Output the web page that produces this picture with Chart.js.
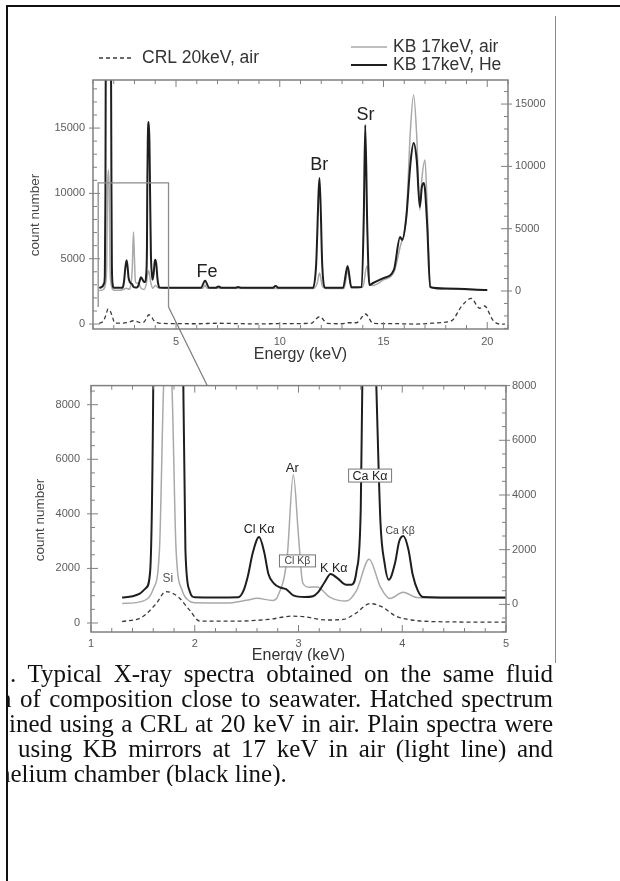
<!DOCTYPE html>
<html>
<head>
<meta charset="utf-8">
<title>X-ray spectra, fluid inclusion</title>
<script src="https://cdn.jsdelivr.net/npm/chart.js@4.4.1/dist/chart.umd.min.js"></script>
<style>
  html, body { margin: 0; padding: 0; background: #fff; }
  body { width: 620px; height: 881px; position: relative; overflow: hidden; }
  #frame { position: absolute; left: 6px; top: 5px; width: 700px; height: 900px; border-left: 2px solid #111; border-top: 2px solid #111; }
  #figEdge { position: absolute; left: 555px; top: 16px; width: 1px; height: 647px; background: #8a8a8a; }
  #topWrap { position: absolute; left: 8px; top: 18px; width: 546px; height: 350px; }
  #zoomWrap { position: absolute; left: 8px; top: 368px; width: 546px; height: 293px; overflow: hidden; }
  canvas { display: block; }
  #overlay { position: absolute; left: 0; top: 0; pointer-events: none; }
  #caption { position: absolute; left: 8px; top: 661px; width: 545px; overflow: hidden;
    font-family: 'Liberation Serif', 'Times New Roman', serif; font-size: 25px; line-height: 25px; color: #111; }
  .ln { text-align: justify; text-align-last: justify; }
  .last { text-align: left; text-align-last: left; }
</style>
</head>
<body>
<div id="frame"></div>
<div id="figEdge"></div>
<div id="topWrap"><canvas id="overview" width="546" height="350"></canvas></div>
<div id="zoomWrap"><canvas id="zoom" width="546" height="310"></canvas></div>
<canvas id="overlay" width="620" height="881"></canvas>
<div id="caption">
  <div class="ln" style="margin-left:2px;width:543px">. Typical X-ray spectra obtained on the same fluid</div>
  <div class="ln" style="margin-left:-9px;width:554px">n of composition close to seawater. Hatched spectrum</div>
  <div class="ln" style="margin-left:1px;width:544px">ined using a CRL at 20 keV in air. Plain spectra were</div>
  <div class="ln" style="margin-left:10px;width:535px">using KB mirrors at 17 keV in air (light line) and</div>
  <div class="ln last" style="margin-left:-10px;width:555px">helium chamber (black line).</div>
</div>
<script>
'use strict';

// Spectra: energy (keV) and count number
const heE = [1.30, 1.40, 1.47, 1.53, 1.57, 1.60, 1.62, 1.74, 1.86, 1.89, 1.91, 1.95, 2.00, 2.20, 2.42,
  2.47, 2.51, 2.56, 2.62, 2.67, 2.71, 2.76, 2.82, 2.88, 2.95, 3.06, 3.14, 3.19, 3.25, 3.31,
  3.38, 3.46, 3.51, 3.56, 3.60, 3.615, 3.64, 3.68, 3.72, 3.75, 3.79, 3.83, 3.87, 3.93, 3.97,
  4.01, 4.06, 4.10, 4.15, 4.20, 4.60, 5.50, 6.20, 6.40, 6.60, 6.90, 7.05, 7.20, 7.85, 8.00,
  8.15, 9.65, 9.80, 9.95, 11.60, 11.75, 11.92, 12.05, 12.20, 13.05, 13.27, 13.45, 13.95, 14.05, 14.12,
  14.22, 14.32, 14.50, 15.00, 15.50, 15.80, 15.90, 16.10, 16.30, 16.45, 16.60, 16.75, 16.85, 16.95, 17.10,
  17.25, 18.00, 20.00];
const heCounts = [250, 300, 390, 600, 1200, 8000, 22000, 40000, 22000, 8000, 2000, 500, 260, 250, 260,
  500, 1000, 1900, 2460, 1900, 1110, 780, 620, 560, 330, 270, 300, 445, 800, 1110,
  940, 720, 720, 1230, 3500, 8000, 12000, 13560, 12000, 8000, 3000, 1500, 900, 1500, 2300,
  2500, 2000, 1100, 500, 270, 250, 250, 250, 830, 250, 250, 360, 250, 250, 330,
  250, 250, 400, 250, 250, 2000, 9070, 2000, 250, 250, 2000, 300, 320, 6000, 13320,
  5000, 480, 640, 1040, 1690, 4330, 4090, 5940, 10270, 11870, 10510, 6740, 8350, 8670, 5460,
  320, 200, 80];

const airE = [1.30, 1.50, 1.60, 1.66, 1.70, 1.74, 1.78, 1.82, 1.88, 1.95, 2.00, 2.30, 2.50, 2.60, 2.75,
  2.80, 2.89, 2.95, 3.00, 3.04, 3.10, 3.18, 3.30, 3.46, 3.56, 3.68, 3.79, 3.88, 4.01, 4.14,
  4.60, 6.30, 6.40, 6.50, 11.60, 11.80, 11.92, 12.05, 12.20, 13.10, 13.27, 13.45, 14.00, 14.20, 14.35,
  14.50, 15.00, 15.50, 15.80, 16.10, 16.30, 16.45, 16.60, 16.75, 16.85, 17.00, 17.10, 17.25, 18.00, 20.00];
const airCounts = [30, 120, 560, 2000, 8000, 9700, 8000, 2000, 500, 120, 60, 50, 150, 220, 145,
  300, 1700, 4740, 2500, 800, 630, 640, 265, 120, 510, 1650, 630, 215, 445, 250,
  220, 220, 480, 220, 200, 600, 1440, 400, 200, 200, 1600, 250, 300, 2000, 500,
  450, 900, 1500, 3530, 6000, 13000, 15730, 12500, 6500, 9000, 10510, 7000, 300, 150, 50];

const crlE = [1.30, 1.49, 1.63, 1.72, 1.84, 1.95, 2.05, 2.41, 2.71, 2.94, 3.05, 3.28, 3.43, 3.55, 3.69,
  3.80, 3.94, 4.09, 4.32, 5.00, 6.00, 7.00, 8.00, 9.00, 10.00, 11.50, 11.92, 12.30, 13.00, 13.30,
  13.70, 14.13, 14.50, 15.50, 16.50, 17.50, 18.00, 18.33, 18.75, 19.23, 19.63, 19.87, 20.27, 20.60, 20.85];
const crlCounts = [50, 210, 720, 1150, 960, 470, 70, 70, 130, 250, 230, 110, 130, 350, 710,
  600, 250, 110, 50, 30, 20, 60, 30, 10, 30, 50, 560, 50, 20, 100,
  100, 770, 50, 30, 0, 80, 150, 300, 1330, 1960, 1210, 1380, 300, 0, 0];

// Tick labels
const topEnergyTicks = [5, 10, 15, 20];
const topCountTicksL = [0, 5000, 10000, 15000];
const topCountTicksR = [0, 5000, 10000, 15000];
const zoomEnergyTicks = [1, 2, 3, 4, 5];
const zoomCountTicksL = [0, 2000, 4000, 6000, 8000];
const zoomCountTicksR = [0, 2000, 4000, 6000, 8000];

// Peak names (placed in energy / right-axis counts)
const topLabels = ['Fe', 'Br', 'Sr'];
const topLabelE = [6.5, 11.9, 14.13];
const topLabelCounts = [1525, 10110, 14125];
const zoomLabels = ['Si', 'Cl Kα', 'Ar', 'Cl Kβ', 'K Kα', 'Ca Kα', 'Ca Kβ'];
const zoomLabelE = [1.74, 2.62, 2.94, 2.99, 3.34, 3.69, 3.98];
const zoomLabelCounts = [940, 2750, 5000, 1590, 1340, 4710, 2715];

// Region of the overview that is enlarged below
const zoomBoxE = [1.25, 4.64];
const zoomBoxCounts = [1300, 10800];
const connectorEndE = 2.12;

(function () {
  const FONT = "'Liberation Sans', Arial, Helvetica, sans-serif";
  Chart.defaults.font.family = FONT;

  const toPoints = (xs, ys) => xs.map((x, i) => ({ x: x, y: ys[i] }));

  function spectra() {
    return [
      { label: 'KB 17keV, He', data: toPoints(heE, heCounts), yAxisID: 'yR', borderColor: '#1e1e1e', borderWidth: 2 },
      { label: 'KB 17keV, air', data: toPoints(airE, airCounts), yAxisID: 'yR', borderColor: '#a9a9a9', borderWidth: 1.5 },
      { label: 'CRL 20keV, air', data: toPoints(crlE, crlCounts), yAxisID: 'yL', borderColor: '#3a3a3a', borderWidth: 1.3, borderDash: [4, 3] }
    ].map(d => Object.assign(d, { pointRadius: 0, fill: false, cubicInterpolationMode: 'monotone' }));
  }

  function countAxis(position, min, max, majors, width, pad) {
    return {
      type: 'linear', position: position, min: min, max: max,
      grid: { display: false, drawTicks: false },
      border: { display: false },
      ticks: { padding: pad, color: '#5c5c5c', font: { size: 11 }, autoSkip: false, callback: v => String(v) },
      afterBuildTicks: s => { s.ticks = majors.map(v => ({ value: v })); },
      afterFit: s => { s.width = width; }
    };
  }

  function energyAxis(min, max, majors, height, pad, titlePad) {
    return {
      type: 'linear', position: 'bottom', min: min, max: max,
      grid: { display: false, drawTicks: false },
      border: { display: false },
      ticks: { padding: pad, color: '#5c5c5c', font: { size: 11 }, autoSkip: false, maxRotation: 0, callback: v => String(v) },
      afterBuildTicks: s => { s.ticks = majors.map(v => ({ value: v })); },
      afterFit: s => { s.height = height; },
      title: { display: true, text: 'Energy (keV)', color: '#333', font: { size: 16 }, padding: { top: 0, bottom: titlePad } }
    };
  }

  // small inward tick marks, long ones at labelled values
  function markAxis(ctx, s, step, majors, a, side) {
    ctx.beginPath();
    for (let k = Math.ceil(s.min / step - 1e-6); k * step <= s.max + 1e-6; k++) {
      const v = k * step;
      const p = s.getPixelForValue(v);
      const big = majors.some(m => Math.abs(m - v) < step / 4);
      const len = big ? 7 : 4;
      if (side === 'x') {
        ctx.moveTo(p, a.bottom); ctx.lineTo(p, a.bottom - len);
        ctx.moveTo(p, a.top); ctx.lineTo(p, a.top + len);
      } else if (side === 'left') {
        ctx.moveTo(a.left - (big ? 4 : 0), p); ctx.lineTo(a.left + len, p);
      } else {
        ctx.moveTo(a.right + (big ? 4 : 0), p); ctx.lineTo(a.right - len, p);
      }
    }
    ctx.stroke();
  }

  function drawFrame(chart, xStep, xMajors, lStep, lMajors, rStep, rMajors) {
    const ctx = chart.ctx, a = chart.chartArea, s = chart.scales;
    ctx.strokeStyle = '#808080';
    ctx.lineWidth = 1.5;
    ctx.strokeRect(a.left, a.top, a.right - a.left, a.bottom - a.top);
    ctx.lineWidth = 1;
    markAxis(ctx, s.x, xStep, xMajors, a, 'x');
    markAxis(ctx, s.yL, lStep, lMajors, a, 'left');
    markAxis(ctx, s.yR, rStep, rMajors, a, 'right');
  }

  function yTitle(ctx, x, y) {
    ctx.save();
    ctx.translate(x, y);
    ctx.rotate(-Math.PI / 2);
    ctx.fillStyle = '#444';
    ctx.font = '13.5px ' + FONT;
    ctx.textAlign = 'center';
    ctx.textBaseline = 'middle';
    ctx.fillText('count number', 0, 0);
    ctx.restore();
  }

  function legendLine(ctx, x0, x1, y, color, width, dash) {
    ctx.save();
    ctx.strokeStyle = color;
    ctx.lineWidth = width;
    ctx.setLineDash(dash);
    ctx.beginPath(); ctx.moveTo(x0, y); ctx.lineTo(x1, y); ctx.stroke();
    ctx.restore();
  }

  function decorateOverview(chart) {
    const ctx = chart.ctx, s = chart.scales;
    ctx.save();
    drawFrame(chart, 1, topEnergyTicks, 1000, topCountTicksL, 1000, topCountTicksR);

    // outline of the enlarged part
    const x0 = s.x.getPixelForValue(zoomBoxE[0]), x1 = s.x.getPixelForValue(zoomBoxE[1]);
    const yb = s.yL.getPixelForValue(zoomBoxCounts[0]), yt = s.yL.getPixelForValue(zoomBoxCounts[1]);
    ctx.strokeStyle = '#8c8c8c';
    ctx.lineWidth = 1.3;
    ctx.beginPath();
    ctx.moveTo(x0, yb); ctx.lineTo(x0, yt); ctx.lineTo(x1, yt); ctx.lineTo(x1, yb);
    ctx.stroke();

    ctx.fillStyle = '#222';
    ctx.font = '18px ' + FONT;
    ctx.textAlign = 'center';
    ctx.textBaseline = 'middle';
    topLabels.forEach((t, i) => {
      ctx.fillText(t, s.x.getPixelForValue(topLabelE[i]), s.yR.getPixelForValue(topLabelCounts[i]));
    });

    // legend
    legendLine(ctx, 91, 125, 40, '#3a3a3a', 1.3, [4, 3]);
    legendLine(ctx, 343, 379, 29, '#a9a9a9', 1.5, []);
    legendLine(ctx, 343, 379, 47, '#1e1e1e', 2, []);
    ctx.fillStyle = '#333';
    ctx.font = '17.5px ' + FONT;
    ctx.textAlign = 'left';
    ctx.fillText('CRL 20keV, air', 134, 40);
    ctx.fillText('KB 17keV, air', 385, 29);
    ctx.fillText('KB 17keV, He', 385, 47);

    yTitle(ctx, 27.6, 197);
    ctx.restore();
  }

  const zoomLabelStyle = [
    { size: 12, color: '#555' },
    { size: 12.5, color: '#222' },
    { size: 13, color: '#222' },
    { size: 10.5, color: '#444', box: [36, 12] },
    { size: 12.5, color: '#222' },
    { size: 12.5, color: '#222', box: [43, 13] },
    { size: 10.5, color: '#444' }
  ];

  function decorateZoom(chart) {
    const ctx = chart.ctx, s = chart.scales;
    ctx.save();
    drawFrame(chart, 0.2, zoomEnergyTicks, 500, zoomCountTicksL, 500, zoomCountTicksR);
    ctx.textAlign = 'center';
    ctx.textBaseline = 'middle';
    zoomLabels.forEach((t, i) => {
      const st = zoomLabelStyle[i];
      const x = s.x.getPixelForValue(zoomLabelE[i]);
      const y = s.yR.getPixelForValue(zoomLabelCounts[i]);
      if (st.box) {
        const w = st.box[0], h = st.box[1];
        ctx.fillStyle = '#fff';
        ctx.fillRect(x - w / 2, y - h / 2, w, h);
        ctx.strokeStyle = '#777';
        ctx.lineWidth = 1;
        ctx.strokeRect(x - w / 2, y - h / 2, w, h);
      }
      ctx.fillStyle = st.color;
      ctx.font = st.size + 'px ' + FONT;
      ctx.fillText(t, x, y + 0.5);
    });
    yTitle(ctx, 32, 152);
    ctx.restore();
  }

  function makeChart(id, padTop, scales, decorate) {
    return new Chart(document.getElementById(id), {
      type: 'line',
      data: { datasets: spectra() },
      options: {
        responsive: false,
        devicePixelRatio: 1,
        animation: false,
        layout: { padding: { top: padTop, left: 0, right: 0, bottom: 0 } },
        plugins: { legend: { display: false }, tooltip: { enabled: false } },
        scales: scales
      },
      plugins: [{ id: 'decor', afterDraw: decorate }]
    });
  }

  const overview = makeChart('overview', 62, {
    x: energyAxis(1, 21, topEnergyTicks, 39, 6, 3.4),
    yL: countAxis('left', -380, 18680, topCountTicksL, 85, 8),
    yR: countAxis('right', -3050, 16930, topCountTicksR, 46, 7)
  }, decorateOverview);

  const zoom = makeChart('zoom', 15, {
    x: energyAxis(1, 5, zoomEnergyTicks, 46, 5, 12.4),
    yL: countAxis('left', -330, 8700, zoomCountTicksL, 83, 11),
    yR: countAxis('right', -1010, 8000, zoomCountTicksR, 48, 6)
  }, decorateZoom);

  // connector from the outlined region to the enlarged plot
  const ov = document.getElementById('overlay').getContext('2d');
  const r0 = overview.canvas.getBoundingClientRect();
  const r1 = zoom.canvas.getBoundingClientRect();
  ov.strokeStyle = '#7a7a7a';
  ov.lineWidth = 1.2;
  ov.beginPath();
  ov.moveTo(r0.left + overview.scales.x.getPixelForValue(zoomBoxE[1]), r0.top + overview.scales.yL.getPixelForValue(zoomBoxCounts[0]));
  ov.lineTo(r1.left + zoom.scales.x.getPixelForValue(connectorEndE), r1.top + zoom.chartArea.top);
  ov.stroke();
})();
</script>
</body>
</html>
